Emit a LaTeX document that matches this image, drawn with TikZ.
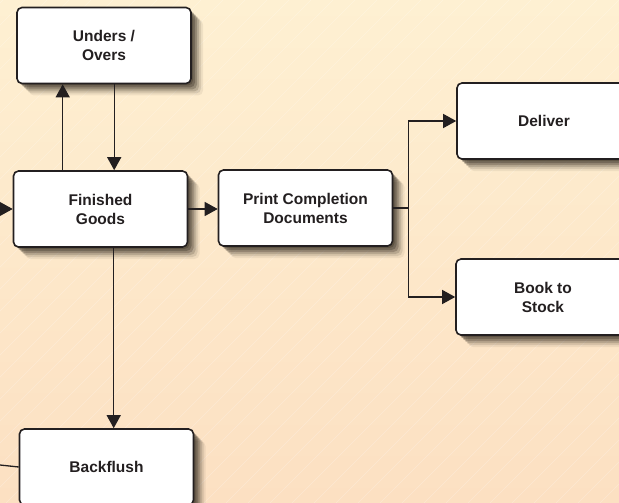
\documentclass[tikz,border=0pt]{standalone}
\usepackage{fontspec}
\setmainfont{Liberation Sans}
\usetikzlibrary{arrows.meta,shadows,calc}
\definecolor{bgtop}{HTML}{FEF0D2}
\definecolor{bgbot}{HTML}{FCE0C2}
\definecolor{shcol}{HTML}{2E261C}
\definecolor{ink}{HTML}{231F20}
\begin{document}
\begin{tikzpicture}[x=1pt,y=-1pt,
 shady/.style={
   drop shadow={shadow xshift=2pt,shadow yshift=-2pt,opacity=0.3,fill=shcol},
   drop shadow={shadow xshift=4pt,shadow yshift=-4pt,opacity=0.3,fill=shcol},
   drop shadow={shadow xshift=6pt,shadow yshift=-6pt,opacity=0.25,fill=shcol},
   drop shadow={shadow xshift=8pt,shadow yshift=-8pt,opacity=0.18,fill=shcol},
   drop shadow={shadow xshift=10pt,shadow yshift=-10pt,opacity=0.12,fill=shcol},
   drop shadow={shadow xshift=12pt,shadow yshift=-12pt,opacity=0.07,fill=shcol}},
 box/.style={shady, draw=ink, line width=1.6pt, rounded corners=5pt, fill=white,
   minimum width=174pt, minimum height=76pt, inner sep=0pt, align=center,
   font=\fontsize{15.5}{19}\selectfont\bfseries, text=ink},
 arr/.style={line width=1.3pt, draw=ink, -{Triangle[length=13pt,width=14pt]}},
 ln/.style={line width=1.3pt, draw=ink},
 hatch/.style={draw=white, opacity=0.25, line width=0.5pt}]
\useasboundingbox (0,0) rectangle (619,503);
\clip (0,0) rectangle (619,503);
\shade[top color=bgtop, bottom color=bgbot] (0,0) rectangle (619,503);
\foreach \i in {-500,-478,...,640} {
  \draw[hatch] (\i,503) -- ++(503,-503);
}
\node[box] (UO) at (104,45.5) {Unders /\\Overs};
\node[box] (FG) at (100.5,209) {Finished\\Goods};
\node[box] (PC) at (305.5,208) {Print Completion\\Documents};
\node[box] (DL) at (544,121) {Deliver};
\node[box] (BS) at (543,297) {Book to\\Stock};
\node[box] (BF) at (106.5,467) {Backflush};
\coordinate (inFG) at (0,209);
\coordinate (outBF) at (0,465);
\draw[arr] ([xshift=50pt]FG.north west) -- ([xshift=50pt]FG.north west |- UO.south);
\draw[arr] ([xshift=98pt]UO.south west) -- ([xshift=98pt]UO.south west |- FG.north);
\draw[arr] (inFG) -- (FG.west);
\draw[arr] (FG.east) -- (FG.east -| PC.west);
\draw[arr] (PC.east) -- ++(15,0) |- (DL.west);
\draw[arr] (PC.east) -- ++(15,0) |- (BS.west);
\draw[arr] ([xshift=101pt]FG.south west) -- ([xshift=101pt]FG.south west |- BF.north);
\draw[ln] (outBF) -- (BF.west);
\end{tikzpicture}
\end{document}
